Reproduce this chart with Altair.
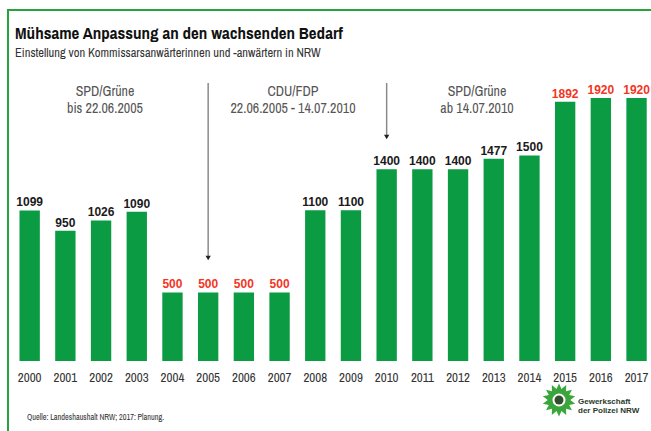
import math
import altair as alt
import pandas as pd

# ---- data ----
years = [2000, 2001, 2002, 2003, 2004, 2005, 2006, 2007, 2008,
         2009, 2010, 2011, 2012, 2013, 2014, 2015, 2016, 2017]
values = [1099, 950, 1026, 1090, 500, 500, 500, 500, 1100,
          1100, 1400, 1400, 1400, 1477, 1500, 1892, 1920, 1920]
title_text = "Mühsame Anpassung an den wachsenden Bedarf"
subtitle_text = "Einstellung von Kommissarsanwärterinnen und -anwärtern in NRW"
period_1 = ["SPD/Grüne", "bis 22.06.2005"]
period_2 = ["CDU/FDP", "22.06.2005 - 14.07.2010"]
period_3 = ["SPD/Grüne", "ab 14.07.2010"]
change_years = [2005, 2010]
source_text = "Quelle: Landeshaushalt NRW; 2017: Planung."
logo_lines = ["Gewerkschaft", "der Polizei NRW"]

GREEN = "#0b9b43"
FRAME = "#27a33d"
RED = "#f2361f"
NARROW = "Archivo Narrow, Barlow Semi Condensed, DejaVu Sans Condensed, sans-serif"
BOLDF = "Liberation Sans, Arial, sans-serif"

df = pd.DataFrame({"year": years, "value": values})

x = alt.X("year:O", scale=alt.Scale(paddingInner=0.43, paddingOuter=0.333, align=0.82), axis=None)
y = alt.Y("value:Q", scale=alt.Scale(domain=[-511, 2635], nice=False, zero=False), axis=None)

base = alt.Chart(df)

bars = base.mark_bar(color=GREEN).encode(x=x, y=y, y2=alt.datum(0))

labels = base.mark_text(baseline="alphabetic", dy=-4, fontSize=12, fontWeight="bold",
                        font=BOLDF).encode(
    x=x, y=y,
    text=alt.Text("value:Q", format="d"),
    color=alt.condition("datum.value <= 500 || datum.year >= 2015",
                        alt.value(RED), alt.value("#1a1a1a")),
)

year_labels = base.mark_text(baseline="alphabetic", fontSize=13, font=NARROW,
                             color="#333333").encode(
    x=x, y=alt.value(382), text="year:O")


def txt(s, px, py, size, weight="normal", color="#222222", align="left", font=NARROW):
    return alt.Chart(pd.DataFrame({"t": [s]})).mark_text(
        align=align, baseline="alphabetic", fontSize=size, fontWeight=weight,
        color=color, font=font).encode(x=alt.value(px), y=alt.value(py), text="t:N")


layers = [bars, labels, year_labels]

# arrows marking the government changes
arrow_ends = [258, 137]
for yr, yend in zip(change_years, arrow_ends):
    adf = pd.DataFrame({"year": [yr]})
    layers.append(alt.Chart(adf).mark_rule(color="#8a8a8a", strokeWidth=1.5).encode(
        x=x, y=alt.value(83), y2=alt.value(yend - 2)))
    layers.append(alt.Chart(adf).mark_point(shape="triangle-down", filled=True, opacity=1,
                                            color="#222222", size=28).encode(
        x=x, y=alt.value(yend)))

# period annotations
for lines, cx in [(period_1, 105), (period_2, 293), (period_3, 477)]:
    layers.append(txt(lines[0], cx, 96, 14, color="#555555", align="center"))
    layers.append(txt(lines[1], cx, 113, 14, color="#555555", align="center"))

# title, subtitle, source
layers.append(txt(title_text, 15, 39, 17, weight="bold", color="#111111"))
layers.append(txt(subtitle_text, 15, 57, 12.5, color="#333333"))
layers.append(txt(source_text, 27, 420, 8.2, color="#333333"))

# frame lines
layers.append(alt.Chart(pd.DataFrame({"a": [0]})).mark_rule(color=FRAME, strokeWidth=2).encode(
    x=alt.value(8), y=alt.value(9), y2=alt.value(431)))
layers.append(alt.Chart(pd.DataFrame({"a": [0]})).mark_rule(color=FRAME, strokeWidth=2).encode(
    x=alt.value(7), x2=alt.value(651), y=alt.value(10)))

# logo: star badge
pts = []
n_spikes = 14
for i in range(2 * n_spikes):
    r = 1.0 if i % 2 == 0 else 0.68
    a = math.pi * i / n_spikes
    pts.append(f"{r * math.sin(a):.3f},{-r * math.cos(a):.3f}")
star_path = "M" + "L".join(pts) + "Z"
logo_df = pd.DataFrame({"a": [0]})
layers.append(alt.Chart(logo_df).mark_point(shape=star_path, filled=True, opacity=1,
                                            color="#3aa53a", size=1100).encode(
    x=alt.value(559), y=alt.value(400)))
layers.append(alt.Chart(logo_df).mark_point(shape="circle", filled=True, opacity=1,
                                            color="#ffffff", size=170).encode(
    x=alt.value(559), y=alt.value(400)))
layers.append(alt.Chart(logo_df).mark_point(shape="circle", filled=True, opacity=1,
                                            color="#2f4f2f", size=80).encode(
    x=alt.value(559), y=alt.value(400)))
layers.append(txt(logo_lines[0], 578, 404, 8, weight="bold", color="#2a3a2a", font=BOLDF))
layers.append(txt(logo_lines[1], 578, 413, 8, weight="bold", color="#2a3a2a", font=BOLDF))

chart = alt.layer(*layers).properties(
    width=651, height=431, background="white", padding=0,
    autosize=alt.AutoSizeParams(type="none"),
).configure_view(stroke=None)

chart.save("out.html", embed_options={"renderer": "svg", "actions": False})
